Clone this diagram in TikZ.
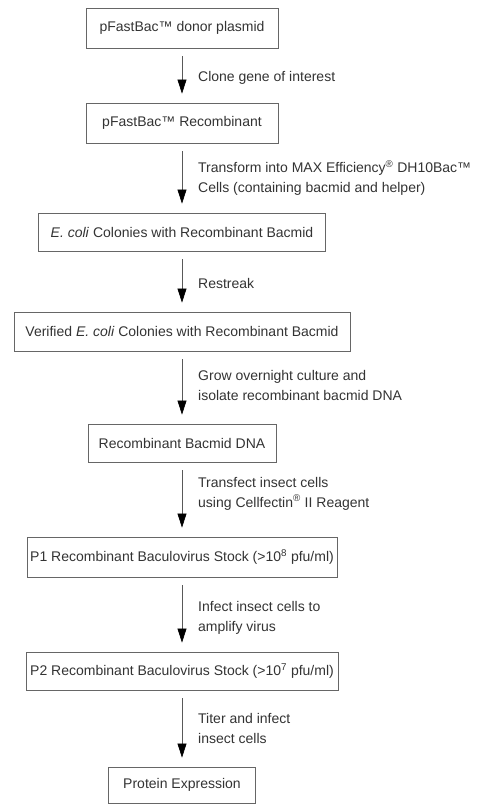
\documentclass[tikz,border=0pt]{standalone}
\usepackage{fontspec}
\setmainfont{Liberation Sans}
\usetikzlibrary{arrows.meta}
\begin{document}
\begin{tikzpicture}[x=1pt,y=-1pt,
  box/.style={draw=black!60, line width=0.8pt, inner sep=0pt, text=black!80,
    font=\fontsize{14}{20}\selectfont},
  lbl/.style={anchor=west, align=left, inner sep=0pt, text=black!80,
    font=\fontsize{14}{20}\selectfont},
  arr/.style={draw=black!65, line width=0.7pt, shorten <=8pt, shorten >=9pt,
    -{Triangle[length=14pt,width=9pt,color=black]}}]
\useasboundingbox (0,0) rectangle (482,804);
\node[box, minimum width=192pt, minimum height=40pt] (b1) at (182,28) {pFastBac™ donor plasmid};
\node[box, minimum width=192pt, minimum height=40pt] (b2) at (182,123) {pFastBac™ Recombinant};
\node[box, minimum width=287pt, minimum height=38pt] (b3) at (182,232) {\textit{E. coli} Colonies with Recombinant Bacmid};
\node[box, minimum width=336pt, minimum height=39pt] (b4) at (182,331.5) {Verified \textit{E. coli} Colonies with Recombinant Bacmid};
\node[box, minimum width=188pt, minimum height=38pt] (b5) at (182,443) {Recombinant Bacmid DNA};
\node[box, minimum width=310pt, minimum height=40pt] (b6) at (182,557) {P1 Recombinant Baculovirus Stock (>10\textsuperscript{8} pfu/ml)};
\node[box, minimum width=312pt, minimum height=38pt] (b7) at (182,671) {P2 Recombinant Baculovirus Stock (>10\textsuperscript{7} pfu/ml)};
\node[box, minimum width=147pt, minimum height=36pt] (b8) at (182,785) {Protein Expression};

\draw[arr] (b1.south) -- (b2.north);
\draw[arr] (b2.south) -- (b3.north);
\draw[arr] (b3.south) -- (b4.north);
\draw[arr] (b4.south) -- (b5.north);
\draw[arr] (b5.south) -- (b6.north);
\draw[arr] (b6.south) -- (b7.north);
\draw[arr] (b7.south) -- (b8.north);

\node[lbl] (l1) at (198,78) {Clone gene of interest};
\node[lbl] (l2) at (198,178) {Transform into MAX Efficiency\textsuperscript{®} DH10Bac™\\Cells (containing bacmid and helper)};
\node[lbl] (l3) at (198,283) {Restreak};
\node[lbl] (l4) at (198,385) {Grow overnight culture and\\isolate recombinant bacmid DNA};
\node[lbl] (l5) at (198,493.5) {Transfect insect cells\\using Cellfectin\textsuperscript{®} II Reagent};
\node[lbl] (l6) at (198,617.5) {Infect insect cells to\\amplify virus};
\node[lbl] (l7) at (198,728.5) {Titer and infect\\insect cells};
\end{tikzpicture}
\end{document}
